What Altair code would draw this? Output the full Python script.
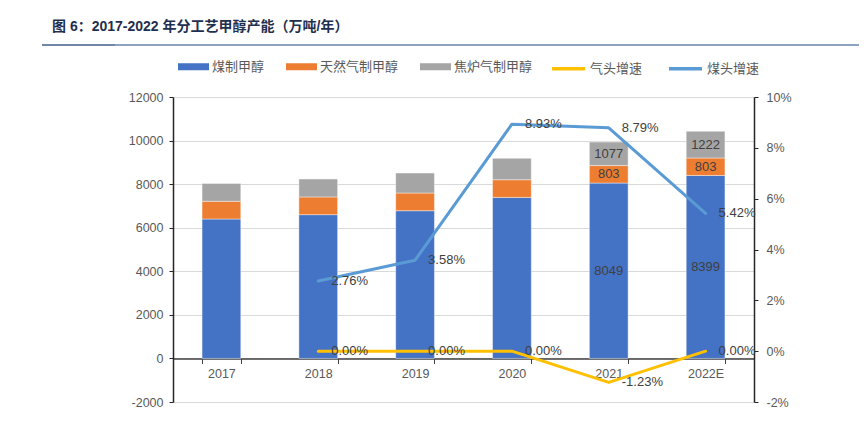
import altair as alt
import pandas as pd

# ---------------- data ----------------
years = ["2017", "2018", "2019", "2020", "2021", "2022E"]
coal = [6400, 6600, 6780, 7390, 8049, 8399]          # 煤制甲醇
gas = [813, 813, 813, 813, 803, 803]                 # 天然气制甲醇
coke = [820, 820, 915, 980, 1077, 1222]              # 焦炉气制甲醇
coal_growth = [None, 2.76, 3.58, 8.93, 8.79, 5.42]   # 煤头增速 (%)
gas_growth = [None, 0.00, 0.00, 0.00, -1.23, 0.00]   # 气头增速 (%)
labeled_years = ["2021", "2022E"]

bar_series = ["煤制甲醇", "天然气制甲醇", "焦炉气制甲醇"]
bar_colors = ["#4472c4", "#ed7d31", "#a5a5a5"]
line_series = ["气头增速", "煤头增速"]
line_colors = ["#ffc000", "#5b9bd5"]
left_ticks = [-2000, 0, 2000, 4000, 6000, 8000, 10000, 12000]
right_ticks = [-0.02, 0.0, 0.02, 0.04, 0.06, 0.08, 0.10]
title_text = ["图 6：2017-2022 年分工艺甲醇产能（万吨/年）"]

# ---------------- tables ----------------
rows = []
for i, y in enumerate(years):
    base = 0
    for j, (name, vals) in enumerate(zip(bar_series, [coal, gas, coke])):
        v = vals[i]
        rows.append({"year": y, "series": name, "value": v, "order": j,
                     "mid": base + v / 2,
                     "label": str(v) if y in labeled_years else ""})
        base += v
bar_df = pd.DataFrame(rows)
bar_lab_df = bar_df[bar_df["label"] != ""]

lrows = []
for name, vals in zip(line_series, [gas_growth, coal_growth]):
    for y, v in zip(years, vals):
        if v is None:
            continue
        lrows.append({"year": y, "series": name, "growth": v / 100.0,
                      "label": f"{v:.2f}%"})
line_df = pd.DataFrame(lrows)

W, H = 581, 305
zero_px = H * 12000 / 14000
NUM_FONT = "Liberation Sans"
CJK_FONT = "Noto Sans CJK SC"

x_enc = alt.X(
    "year:N", sort=years,
    scale=alt.Scale(domain=years, paddingInner=0.6, paddingOuter=0.3),
    axis=alt.Axis(title=None, labelAngle=0, orient="bottom", offset=zero_px - H,
                  tickBand="extent", tickSize=5, tickColor="#404040",
                  domainColor="#404040", domainWidth=1.5, labelPadding=4,
                  labelFont=NUM_FONT, labelFontSize=12.5, labelColor="#595959"),
)

left_scale = alt.Scale(domain=[-2000, 12000], nice=False, zero=False)
right_scale = alt.Scale(domain=[-0.02, 0.10], nice=False, zero=False)

left_axis = alt.Axis(title=None, orient="left", values=left_ticks, format="d", grid=True,
                     gridColor="#d9d9d9", gridWidth=1, domainColor="#262626",
                     domainWidth=1.5, tickColor="#262626", tickSize=4,
                     labelPadding=6, labelFont=NUM_FONT, labelFontSize=12.5,
                     labelColor="#595959")
right_axis = alt.Axis(title=None, orient="right", values=right_ticks, format=".0%",
                      grid=False, domainColor="#262626", domainWidth=1.5,
                      tickColor="#262626", tickSize=4, labelPadding=8,
                      labelFont=NUM_FONT, labelFontSize=12.5, labelColor="#595959")

bars = alt.Chart(bar_df).mark_bar(stroke="#ffffff", strokeWidth=0.6, strokeOpacity=0.7).encode(
    x=x_enc,
    y=alt.Y("value:Q", stack="zero", scale=left_scale, axis=left_axis),
    color=alt.Color("series:N", scale=alt.Scale(domain=bar_series, range=bar_colors),
                    legend=alt.Legend(title=None, orient="none", legendX=5, legendY=-46,
                                      direction="horizontal", columns=3,
                                      symbolType="M-1,-0.226H1V0.226H-1Z", symbolSize=961,
                                      symbolStrokeWidth=0, labelFont=CJK_FONT,
                                      labelFontSize=13, labelColor="#595959",
                                      labelOffset=3, columnPadding=21, padding=0)),
    order=alt.Order("order:Q"),
)

bar_labels = alt.Chart(bar_lab_df).mark_text(
    font=NUM_FONT, fontSize=13, color="#404040", baseline="middle", align="center"
).encode(
    x=x_enc,
    y=alt.Y("mid:Q", scale=left_scale, axis=left_axis),
    text="label:N",
)

lines = alt.Chart(line_df).mark_line(strokeWidth=3, strokeCap="round", strokeJoin="round").encode(
    x=x_enc,
    y=alt.Y("growth:Q", scale=right_scale, axis=right_axis),
    color=alt.Color("series:N", scale=alt.Scale(domain=line_series, range=line_colors),
                    legend=alt.Legend(title=None, orient="none", legendX=377, legendY=-47,
                                      direction="horizontal", columns=2,
                                      symbolType="stroke", symbolSize=1089,
                                      symbolStrokeWidth=3.5, labelFont=CJK_FONT,
                                      labelFontSize=13, labelColor="#595959",
                                      labelOffset=3, columnPadding=19, padding=0)),
)

line_labels = alt.Chart(line_df).mark_text(
    font=NUM_FONT, fontSize=13, color="#404040", baseline="middle", align="left", dx=13
).encode(
    x=x_enc,
    y=alt.Y("growth:Q", scale=right_scale, axis=right_axis),
    text="label:N",
)

title = alt.Chart(pd.DataFrame({"t": title_text})).mark_text(
    font=f"{NUM_FONT}, {CJK_FONT}", fontSize=14, fontWeight="bold", color="#1f2f4f",
    align="left", baseline="middle"
).encode(x=alt.value(-121), y=alt.value(-70), text="t:N")

title_rule = alt.Chart(pd.DataFrame({"t": title_text})).mark_rule(
    color="#8ea3bf", strokeWidth=2
).encode(x=alt.value(-131), x2=alt.value(686), y=alt.value(-52))

title_rule_dark = alt.Chart(pd.DataFrame({"t": title_text})).mark_rule(
    color="#6f87a8", strokeWidth=2
).encode(x=alt.value(-131), x2=alt.value(-58), y=alt.value(-52))

left = alt.layer(bars, bar_labels)
right = alt.layer(lines, line_labels)

chart = alt.layer(left, right, title_rule, title_rule_dark, title).resolve_scale(
    y="independent", color="independent"
).properties(
    width=W, height=H,
    autosize=alt.AutoSizeParams(type="none"),
    padding={"left": 165, "top": 89, "right": 105, "bottom": 29},
    background="white",
).configure(
    locale={"number": {"decimal": ".", "thousands": ",", "grouping": [3],
                       "currency": ["", ""], "minus": "-"}}
).configure_view(stroke=None)

chart.save("out.html", embed_options={"renderer": "svg", "actions": False})
